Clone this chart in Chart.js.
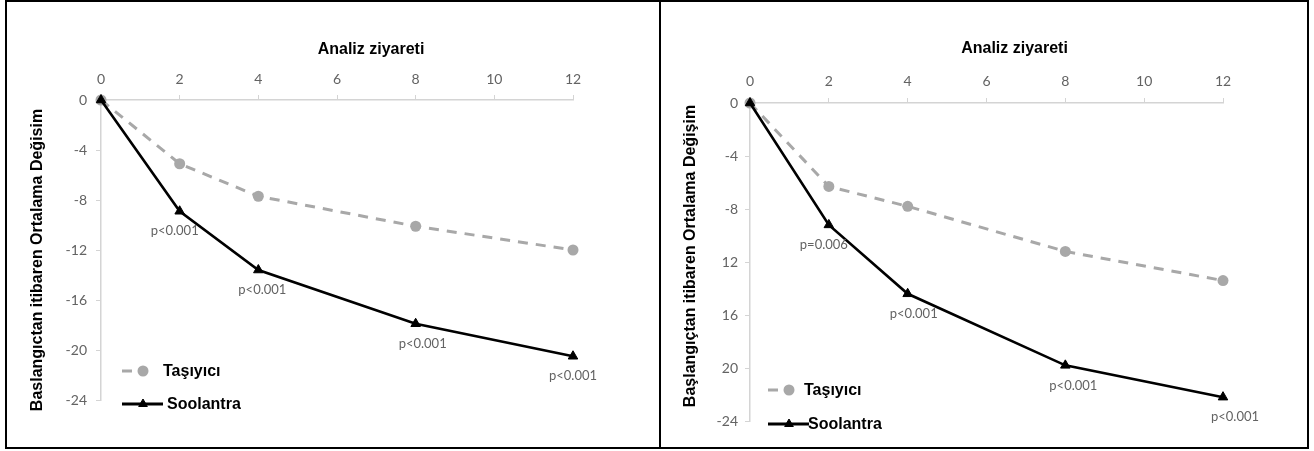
<!DOCTYPE html>
<html>
<head>
<meta charset="utf-8">
<script src="https://cdn.jsdelivr.net/npm/chart.js@4.4.0/dist/chart.umd.min.js"></script>
<style>
html,body{margin:0;padding:0;background:#fff;}
#page{position:relative;width:1314px;height:451px;overflow:hidden;background:#fff;}
.frame{position:absolute;border:2px solid #000;box-sizing:border-box;}
.panel{position:absolute;}
canvas{display:block;}
</style>
</head>
<body>
<div id="page">
  <div class="frame" style="left:5px;top:0;width:656px;height:449px"></div>
  <div class="frame" style="left:659px;top:0;width:650px;height:449px"></div>
  <div class="panel" style="left:7px;top:2px;"><canvas id="c1" width="652" height="444"></canvas></div>
  <div class="panel" style="left:662px;top:2px;"><canvas id="c2" width="644" height="444"></canvas></div>
</div>
<script>
// ---- data ----
const weeks = [0, 2, 4, 8, 12];
const xTickValues = [0, 2, 4, 6, 8, 10, 12];
const yTickValues = [0, -4, -8, -12, -16, -20, -24];
const seriesNames = ['Taşıyıcı', 'Soolantra'];
const xTitle = 'Analiz ziyareti';

const leftVehicle = [0, -5.1, -7.7, -10.1, -12.0];
const leftSoolantra = [0, -8.9, -13.6, -17.9, -20.5];
const leftPLabels = ['', 'p<0.001', 'p<0.001', 'p<0.001', 'p<0.001'];
const leftYTickLabels = ['0', '-4', '-8', '-12', '-16', '-20', '-24'];
const leftYTitle = 'Baslangıctan itibaren Ortalama Değisim';

const rightVehicle = [0, -6.3, -7.8, -11.2, -13.4];
const rightSoolantra = [0, -9.2, -14.4, -19.8, -22.2];
const rightPLabels = ['', 'p=0.006', 'p<0.001', 'p<0.001', 'p<0.001'];
const rightYTickLabels = ['0', '-4', '-8', '12', '16', '20', '-24'];
const rightYTitle = 'Başlangıçtan itibaren Ortalama Değişim';

// ---- styles ----
const GREY = '#a8a8a8';
const TICK_GREY = '#636363';
const AXIS_GREY = '#d4d4d4';
const BOLD_FONT = '"Liberation Sans", Arial, sans-serif';
const TICK_FONT = 'Lato, "Open Sans", sans-serif';

const annotPlugin = {
  id: 'annot',
  afterDatasetsDraw(chart, args, opts) {
    const {ctx, chartArea} = chart;
    ctx.save();
    // x-axis title
    ctx.font = 'bold 16px ' + BOLD_FONT;
    ctx.fillStyle = '#000';
    ctx.textAlign = 'center';
    ctx.textBaseline = 'middle';
    ctx.fillText(opts.xTitle, (chartArea.left + chartArea.right) / 2 + opts.titleDx, chartArea.top + opts.titleDy);

    // y-axis title (rotated)
    ctx.save();
    ctx.translate(opts.yTitleX, (chartArea.top + chartArea.bottom) / 2 + opts.yTitleDy);
    ctx.rotate(-Math.PI / 2);
    ctx.fillText(opts.yTitle, 0, 0);
    ctx.restore();

    // p-value labels under Soolantra points
    ctx.font = '13px ' + TICK_FONT;
    ctx.fillStyle = TICK_GREY;
    const meta = chart.getDatasetMeta(1);
    opts.pLabels.forEach((t, i) => {
      if (!t) return;
      const pt = meta.data[i];
      ctx.fillText(t, pt.x + opts.pDx[i], pt.y + 20);
    });

    // legend inside plot area
    const ds = chart.data.datasets;
    const lx = chartArea.left + opts.legDx;
    const r1 = chartArea.bottom + opts.legRow1;
    const r2 = chartArea.bottom + opts.legRow2;
    // row 1
    ctx.strokeStyle = ds[0].borderColor;
    ctx.lineWidth = 3;
    ctx.setLineDash([10, 6]);
    ctx.beginPath(); ctx.moveTo(lx, r1); ctx.lineTo(lx + 31, r1); ctx.stroke();
    ctx.setLineDash([]);
    ctx.fillStyle = ds[0].pointBackgroundColor;
    ctx.beginPath(); ctx.arc(lx + 21, r1, 5.5, 0, Math.PI * 2); ctx.fill();
    // row 2
    ctx.strokeStyle = ds[1].borderColor;
    ctx.lineWidth = 3;
    ctx.beginPath(); ctx.moveTo(lx, r2); ctx.lineTo(lx + 41, r2); ctx.stroke();
    ctx.fillStyle = '#000';
    ctx.strokeStyle = '#000';
    ctx.lineWidth = 1;
    Chart.helpers.drawPoint(ctx, {pointStyle: 'triangle', radius: 5, borderWidth: 1}, lx + 21, r2);
    // legend text
    ctx.font = 'bold 16px ' + BOLD_FONT;
    ctx.fillStyle = '#000';
    ctx.textAlign = 'left';
    ctx.fillText(ds[0].label, lx + opts.legText1, r1 + 1);
    ctx.fillText(ds[1].label, lx + opts.legText2, r2 + 1);
    ctx.restore();
  }
};

function buildPanel(canvasId, cfg) {
  return new Chart(document.getElementById(canvasId), {
    type: 'line',
    data: {
      datasets: [
        {
          label: seriesNames[0],
          data: weeks.map((w, i) => ({x: w, y: cfg.vehicle[i]})),
          borderColor: GREY, borderWidth: 3, borderDash: [10, 8],
          pointStyle: 'circle', pointRadius: 5.5, pointBorderWidth: 0,
          pointBackgroundColor: GREY, pointBorderColor: GREY,
          tension: 0, clip: false, order: 1
        },
        {
          label: seriesNames[1],
          data: weeks.map((w, i) => ({x: w, y: cfg.sool[i]})),
          borderColor: '#000', borderWidth: 2.6,
          pointStyle: 'triangle', pointRadius: 5.5, pointBorderWidth: 1,
          pointBackgroundColor: '#000', pointBorderColor: '#000',
          tension: 0, clip: false, order: 0
        }
      ]
    },
    options: {
      responsive: false,
      animation: false,
      events: [],
      layout: {padding: cfg.padding},
      plugins: {
        legend: {display: false},
        tooltip: {enabled: false},
        annot: cfg.annot
      },
      scales: {
        x: {
          type: 'linear', position: 'top', min: 0, max: 12,
          afterBuildTicks: s => { s.ticks = xTickValues.map(v => ({value: v})); },
          afterFit: s => { s.height = cfg.xHeight; },
          ticks: {color: TICK_GREY, font: {family: TICK_FONT, size: 14}, padding: cfg.xPad, maxRotation: 0, autoSkip: false},
          grid: {drawOnChartArea: false, drawTicks: true, tickLength: 5, tickColor: AXIS_GREY},
          border: {color: AXIS_GREY, width: 1.5}
        },
        y: {
          type: 'linear', min: -24, max: 0,
          afterBuildTicks: s => { s.ticks = yTickValues.slice().reverse().map(v => ({value: v})); },
          afterFit: s => { s.width = cfg.yWidth; },
          ticks: {
            color: TICK_GREY, font: {family: TICK_FONT, size: 14}, padding: cfg.yPad, autoSkip: false,
            callback: v => cfg.yLabels[yTickValues.indexOf(v)]
          },
          grid: {drawOnChartArea: false, drawTicks: true, tickLength: 5, tickColor: AXIS_GREY},
          border: {color: AXIS_GREY, width: 1.5}
        }
      }
    },
    plugins: [annotPlugin]
  });
}

buildPanel('c1', {
  vehicle: leftVehicle, sool: leftSoolantra, yLabels: leftYTickLabels,
  padding: {left: 0, top: 0, right: 86, bottom: 46},
  xHeight: 98, yWidth: 94, xPad: 7, yPad: 9,
  annot: {xTitle: xTitle, titleDx: 34, titleDy: -50, yTitle: leftYTitle, yTitleX: 31, yTitleDy: 10,
          pLabels: leftPLabels, pDx: [0, -5, 4, 7, 0],
          legDx: 21, legRow1: -29, legRow2: 4, legText1: 41, legText2: 45}
});

buildPanel('c2', {
  vehicle: rightVehicle, sool: rightSoolantra, yLabels: rightYTickLabels,
  padding: {left: 0, top: 0, right: 83, bottom: 25},
  xHeight: 101, yWidth: 88, xPad: 8, yPad: 7,
  annot: {xTitle: xTitle, titleDx: 28, titleDy: -54, yTitle: rightYTitle, yTitleX: 29, yTitleDy: -6,
          pLabels: rightPLabels, pDx: [0, -5, 6, 8, 12],
          legDx: 18, legRow1: -31, legRow2: 3, legText1: 36, legText2: 40}
});
</script>
</body>
</html>
